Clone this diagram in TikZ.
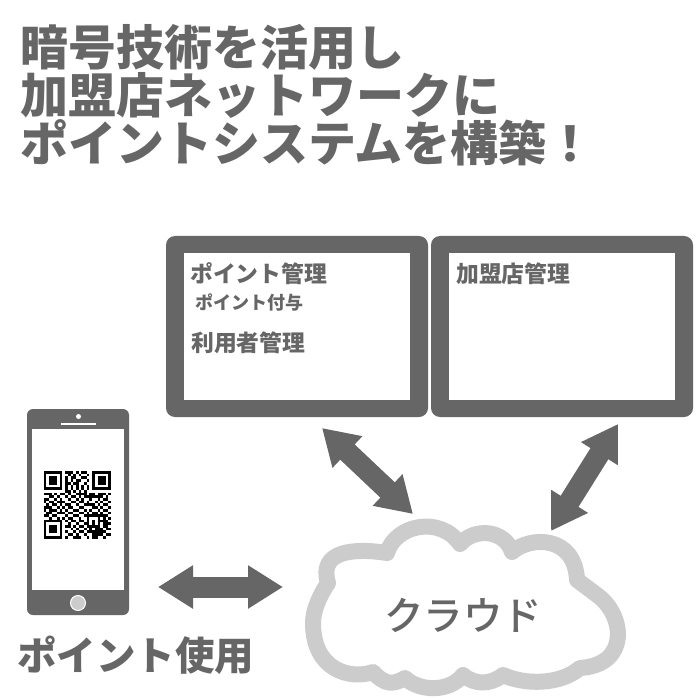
\documentclass[tikz,border=0pt]{standalone}
\usepackage{fontspec}
\usepackage{xcolor}
\usetikzlibrary{arrows.meta,positioning}
\newfontfamily\cjk{Noto Sans CJK JP}
\newfontfamily\cjkblack{Noto Sans CJK JP Black}
\newfontfamily\cjkmedium{Noto Sans CJK JP Medium}
\definecolor{darkgraybox}{HTML}{666666}
\definecolor{cloudgray}{HTML}{CCCCCC}
\tikzset{
  headline/.style={anchor=west,inner sep=0pt,text=darkgraybox,font=\cjkblack\fontsize{48}{48}\selectfont},
  bigtext/.style={anchor=west,inner sep=0pt,text=darkgraybox,font=\cjk\bfseries\fontsize{22.8}{23}\selectfont},
  smalltext/.style={anchor=west,inner sep=0pt,text=darkgraybox,font=\cjk\bfseries\fontsize{18}{18}\selectfont},
  panel/.style={fill=darkgraybox,rounded corners=9pt,inner sep=0pt,minimum width=262pt,minimum height=181pt},
  screen/.style={fill=white,inner sep=0pt,minimum width=226pt,minimum height=147pt},
  bothways/.style={draw=darkgraybox,line width=21pt,{Triangle[length=35pt,width=41pt]}-{Triangle[length=35pt,width=41pt]},shorten >=0pt,shorten <=0pt},
}
\begin{document}
\begin{tikzpicture}[x=1pt,y=-1pt]
\useasboundingbox (0,0) rectangle (700,700);
\fill[white] (0,0) rectangle (700,700);
% title
\node[headline] (title1) at (20,47) {暗号技術を活用し};
\node[headline] (title2) at (20,95) {加盟店ネットワークに};
\node[headline] (title3) at (20,143) {ポイントシステムを構築！};
% panels
\node[panel] (pointpanel) at (297,326.5) {};
\node[screen] (pointscreen) at (297,326.5) {};
\node[panel] (shoppanel) at (562,326.5) {};
\node[screen] (shopscreen) at (562,326.5) {};
\node[bigtext] (pointadmin) at (190,273.5) {ポイント管理};
\node[smalltext] (pointgive) at (195,302.5) {ポイント付与};
\node[bigtext] (useradmin) at (191,342.5) {利用者管理};
\node[bigtext] (shopadmin) at (456,273.5) {加盟店管理};
% phone
\node[fill=darkgraybox,rounded corners=6pt,inner sep=0pt,minimum width=102pt,minimum height=206pt] (phone) at (78,512) {};
\node[fill=white,inner sep=0pt,minimum width=92pt,minimum height=161pt] (phonescreen) at (78,509.5) {};
\node[circle,fill=cloudgray,draw=white,line width=1pt,inner sep=0pt,minimum size=15pt] (homebutton) at (78,603) {};
\node[circle,fill=white,inner sep=0pt,minimum size=5pt] (camera) at (78.5,416.5) {};
\draw[white,line width=2pt] (61,423.5) -- (96,423.5);
% qr code
\begin{scope}[shift={(43.5,471)},x=2.7pt,y=-2.7pt]
\foreach \qrx/\qry in {0/0,18/0,0/18}{
  \draw[black,line width=2.7pt] (\qrx+.5,\qry+.5) rectangle (\qrx+6.5,\qry+6.5);
  \fill[black] (\qrx+2,\qry+2) rectangle (\qrx+5,\qry+5);
}
\foreach \qry/\qrlist in {
  0/{8,9,10,12,14,15},
  1/{9,11,13,16},
  2/{8,10,11,14,15},
  3/{8,10,12,13,16},
  4/{8,9,11,12,15},
  5/{8,10,12,14,16},
  6/{8,10,12,14,16},
  7/{8,9,11,13,15},
  8/{0,1,2,4,6,7,9,12,13,14,15,17,18,20,21,22,24},
  9/{2,3,5,8,10,11,13,15,16,17,18,19,20,21,23},
  10/{0,1,4,6,9,12,14,17,20,22,23},
  11/{0,2,3,5,6,7,10,11,13,14,16,19,21,24},
  12/{1,3,4,6,8,9,12,15,16,17,18,20,22,23},
  13/{0,1,2,5,7,9,10,13,14,18,19,21,24},
  14/{0,2,3,4,6,8,11,12,15,17,20,22,23},
  15/{1,2,5,6,7,9,10,13,14,16,18,19,21,24},
  16/{0,1,3,4,8,11,12,15,16,17,18,19,20,21,22,23},
  17/{2,5,7,9,10,13,16,20,22,24},
  18/{8,10,11,13,14,16,18,20,21,22,23},
  19/{9,12,15,16,18,20,22,23,24},
  20/{8,9,11,13,14,16,17,18,19,20,22,23},
  21/{10,12,15,17,19,20,21,23,24},
  22/{8,11,13,14,16,17,18,19,20,21,22},
  23/{9,10,12,15,18,19,20,21,23,24},
  24/{8,11,12,13,16,18,19,22}}{
  \foreach \qrx in \qrlist
    \fill[black] (\qrx,\qry) rectangle (\qrx+1,\qry+1);
}
\end{scope}
% cloud
\draw[cloudgray,line width=16pt,line join=round]
  (328,583) .. controls (318,550) and (355,548) .. (387,553)
  .. controls (395,525) and (440,515) .. (460,544)
  .. controls (475,527) and (505,530) .. (512,552)
  .. controls (530,536) and (575,535) .. (577,580)
  -- (597,595) .. controls (625,615) and (630,665) .. (580,668)
  .. controls (560,685) and (525,685) .. (503,675)
  .. controls (490,685) and (475,685) .. (463,675)
  .. controls (450,692) and (420,692) .. (405,678)
  .. controls (393,685) and (385,685) .. (373,672)
  .. controls (350,680) and (313,670) .. (313,623)
  .. controls (313,610) and (320,595) .. (328,583) -- cycle;
\node[inner sep=0pt,text=darkgraybox,font=\cjkmedium\fontsize{39.5}{39.5}\selectfont] (cloud) at (463,615) {クラウド};
\node[bigtext,font=\cjk\bfseries\fontsize{39.5}{39.5}\selectfont] (pointuse) at (17,655.5) {ポイント使用};
% arrows
\coordinate (phoneend) at (158,587);
\coordinate (cloudleft) at (283,587);
\coordinate (pointend) at (322,428);
\coordinate (cloudtop) at (413,514);
\coordinate (shopend) at (618,424);
\coordinate (cloudright) at (551,531);
\draw[bothways] (phoneend) -- (cloudleft);
\draw[bothways] (pointend) -- (cloudtop);
\draw[bothways] (shopend) -- (cloudright);
\end{tikzpicture}
\end{document}
